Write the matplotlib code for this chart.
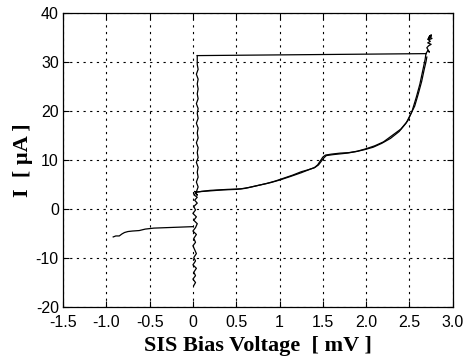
import numpy as np
import matplotlib
matplotlib.use("Agg")
import matplotlib.pyplot as plt

# --- data (bias in mV, current in uA) -----------------------------------------
# negative-bias branch
neg_v = [-0.92, -0.89, -0.85, -0.82, -0.79, -0.75, -0.70, -0.62, -0.55, -0.45, -0.30, -0.15, 0.00]
neg_i = [-5.7, -5.5, -5.5, -5.1, -4.8, -4.6, -4.5, -4.4, -4.1, -3.9, -3.8, -3.7, -3.6]

# noisy supercurrent part below the gap branch
low_v = [0.01, 0.03, 0.00, 0.03, 0.01, 0.04, 0.00, 0.03, 0.01, 0.04, 0.02, 0.00,
         0.03, 0.01, 0.04, 0.00, 0.03, 0.05, 0.01, 0.04, 0.00, 0.03, 0.01, 0.05,
         0.02, 0.05, 0.01, 0.04, 0.02, 0.05, 0.03]
low_i = [-15.6, -15.0, -14.3, -13.6, -12.9, -12.1, -11.4, -10.6, -9.9, -9.1, -8.3, -7.5,
         -6.8, -6.0, -5.2, -4.5, -3.8, -3.0, -2.3, -1.6, -0.9, -0.2, 0.5, 1.2,
         1.8, 2.4, 2.9, 3.3, 3.6, 2.8, 3.5]

# supercurrent up to the switching point
up_v = [0.04, 0.06, 0.04, 0.06, 0.05, 0.06, 0.04, 0.06, 0.05, 0.06, 0.04, 0.06,
        0.05, 0.06, 0.04, 0.06, 0.05, 0.06, 0.04, 0.06, 0.05, 0.06, 0.05, 0.06,
        0.04, 0.06, 0.05, 0.05]
up_i = [3.5, 4.5, 5.5, 6.5, 7.5, 8.5, 9.5, 10.5, 11.5, 12.5, 13.5, 14.5,
        15.5, 16.5, 17.5, 18.5, 19.5, 20.5, 21.5, 22.5, 23.5, 24.5, 25.5, 26.5,
        27.5, 28.5, 29.5, 31.3]

# switch to the gap
jump_v = [0.05, 2.69]
jump_i = [31.3, 31.7]

# sweep forward along the quasiparticle branch
fwd_v = [0.04, 0.10, 0.20, 0.30, 0.40, 0.55, 0.65, 0.75, 0.85, 0.95, 1.05, 1.15,
         1.25, 1.33, 1.40, 1.44, 1.47, 1.50, 1.53, 1.60, 1.70, 1.80, 1.90, 2.00,
         2.10, 2.20, 2.30, 2.40, 2.48, 2.53, 2.58, 2.62, 2.65, 2.68, 2.69]
fwd_i = [3.4, 3.6, 3.8, 3.9, 4.0, 4.1, 4.4, 4.8, 5.2, 5.7, 6.3, 6.9,
         7.6, 8.0, 8.4, 9.0, 9.8, 10.6, 11.0, 11.2, 11.4, 11.5, 11.8, 12.3,
         12.9, 13.7, 15.0, 16.3, 18.0, 20.0, 22.9, 25.5, 28.0, 30.5, 31.7]

# return sweep, slightly offset
ret_v = [2.70, 2.69, 2.67, 2.64, 2.60, 2.56, 2.51, 2.46, 2.38, 2.28, 2.18, 2.08,
         1.98, 1.88, 1.78, 1.62, 1.54, 1.51, 1.48, 1.45, 1.41, 1.35, 1.25, 1.12,
         1.00, 0.90, 0.80, 0.70, 0.60, 0.50, 0.35, 0.20, 0.05]
ret_i = [31.0, 30.0, 28.5, 26.0, 23.4, 21.0, 19.2, 17.5, 15.8, 14.4, 13.4, 12.6,
         12.1, 11.7, 11.4, 11.1, 10.9, 10.4, 9.7, 9.0, 8.5, 8.1, 7.4, 6.6,
         5.9, 5.4, 5.0, 4.6, 4.2, 4.0, 3.9, 3.7, 3.5]

# scribble at the top of the gap
top_v = [2.69, 2.71, 2.73, 2.70, 2.72, 2.75, 2.71, 2.74, 2.72, 2.76, 2.73, 2.75,
         2.72, 2.74, 2.71, 2.75]
top_i = [31.7, 32.3, 32.0, 32.9, 33.3, 33.6, 33.9, 34.2, 34.5, 34.8, 35.1, 35.5,
         34.9, 35.4, 34.6, 35.2]

xticks = [-1.5, -1.0, -0.5, 0, 0.5, 1, 1.5, 2.0, 2.5, 3.0]
xlabels = ["-1.5", "-1.0", "-0.5", "0", "0.5", "1", "1.5", "2.0", "2.5", "3.0"]
yticks = [-20, -10, 0, 10, 20, 30, 40]

plt.rcParams.update({"font.family": "Liberation Sans", "font.size": 11.5,
                     "axes.unicode_minus": False})

fig = plt.figure(figsize=(4.63, 3.56), dpi=100)
ax = fig.add_axes([0.136, 0.1376, 0.842, 0.826])

for v, i in [(neg_v, neg_i), (low_v, low_i), (up_v, up_i), (jump_v, jump_i),
             (fwd_v, fwd_i), (ret_v, ret_i), (top_v, top_i)]:
    ax.plot(v, i, color="black", lw=0.9)

ax.set_xlim(-1.5, 3.0)
ax.set_ylim(-20, 40)
ax.set_xticks(xticks)
ax.set_xticklabels(xlabels)
ax.set_yticks(yticks)
ax.grid(True, color="black", ls=(0, (2, 4)), lw=0.8)
ax.tick_params(direction="in", top=True, right=True, length=4, width=0.8,
               colors="black")
ax.tick_params(axis="x", pad=6)
ax.tick_params(axis="y", pad=3)
for s in ax.spines.values():
    s.set_linewidth(0.9)

ax.set_xlabel("SIS Bias Voltage  [ mV ]", family="Liberation Serif",
              fontweight="bold", fontsize=16, labelpad=4)
ax.set_ylabel("I  [ \u00b5A ]", family="Liberation Serif",
              fontweight="bold", fontsize=16, labelpad=2)

fig.savefig("out.png", dpi=100)
